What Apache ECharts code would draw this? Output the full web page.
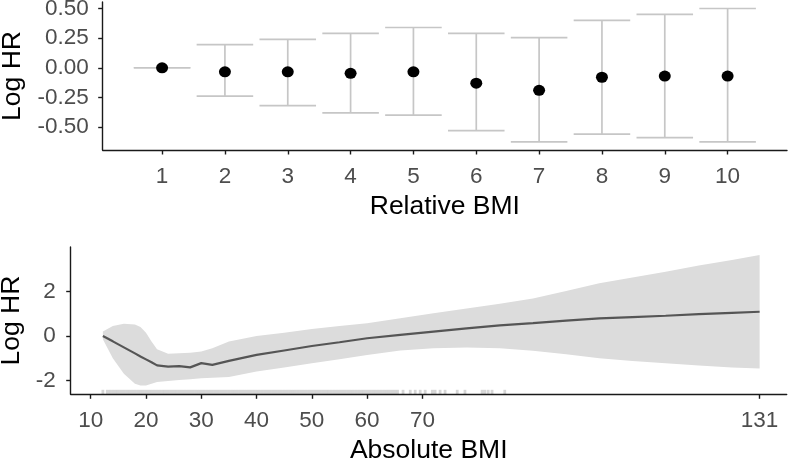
<!DOCTYPE html>
<html>
<head>
<meta charset="utf-8">
<script src="https://cdn.jsdelivr.net/npm/echarts@6/dist/echarts.min.js"></script>
<style>
html,body{margin:0;padding:0;background:#fff;}
#chart{width:790px;height:463px;}
</style>
</head>
<body>
<div id="chart"></div>
<script>
// ---- Top panel: Relative BMI (categories 1..10) ----
const relCategories = [1, 2, 3, 4, 5, 6, 7, 8, 9, 10];
const relLogHR   = [0, -0.034, -0.034, -0.047, -0.034, -0.13, -0.19, -0.08, -0.07, -0.07];
const relLower   = [0, -0.24, -0.32, -0.38, -0.40, -0.53, -0.625, -0.56, -0.59, -0.625];
const relUpper   = [0, 0.196, 0.24, 0.29, 0.34, 0.29, 0.255, 0.40, 0.45, 0.50];
const relYTicks  = [-0.5, -0.25, 0, 0.25, 0.5];

// ---- Bottom panel: Absolute BMI smooth curve ----
const absBMI   = [12.2, 14, 16, 18, 19, 20, 21, 22, 24, 26, 28, 30, 32, 35, 40, 45, 50, 55, 60, 66, 72, 78, 84, 90, 96, 102, 108, 114, 120, 126, 131];
const absLogHR = [0, -0.24, -0.51, -0.78, -0.92, -1.05, -1.18, -1.32, -1.38, -1.35, -1.41, -1.22, -1.30, -1.12, -0.85, -0.65, -0.45, -0.28, -0.10, 0.05, 0.20, 0.34, 0.48, 0.58, 0.69, 0.79, 0.85, 0.91, 0.98, 1.04, 1.09];
const absUpper = [0.2, 0.45, 0.55, 0.52, 0.40, 0.15, -0.25, -0.60, -0.80, -0.78, -0.75, -0.70, -0.55, -0.25, 0.0, 0.15, 0.31, 0.45, 0.57, 0.80, 1.02, 1.24, 1.45, 1.69, 2.02, 2.37, 2.63, 2.89, 3.17, 3.42, 3.64];
const absLower = [-0.15, -1.0, -1.7, -2.15, -2.22, -2.22, -2.15, -2.07, -2.02, -1.98, -1.94, -1.90, -1.88, -1.84, -1.60, -1.42, -1.23, -1.04, -0.85, -0.65, -0.55, -0.52, -0.55, -0.66, -0.82, -1.0, -1.12, -1.23, -1.33, -1.41, -1.46];
const absXTicks = [10, 20, 30, 40, 50, 60, 70, 131];
const absYTicks = [-2, 0, 2];
// observed BMI values (rug)
const rugBMI = [12.2,13,13.5,14,14.5,15,15.5,16,16.5,17,17.5,18,18.5,19,19.5,20,20.5,21,21.5,22,22.5,23,23.5,24,24.5,25,25.5,26,26.5,27,27.5,28,28.5,29,29.5,30,30.5,31,31.5,32,32.5,33,33.5,34,34.5,35,35.5,36,36.5,37,37.5,38,38.5,39,39.5,40,40.5,41,41.5,42,42.5,43,43.5,44,44.5,45,45.5,46,46.5,47,47.5,48,48.5,49,49.5,50,50.5,51,51.5,52,52.5,53,53.5,54,54.5,55,55.5,56,56.5,57,57.5,58,58.5,59,59.5,60,60.5,61,61.5,62,62.5,63,63.5,64,64.5,65,65.5,66.5,67.8,68.7,69.6,70.5,71.8,72.3,73.2,74.1,76.3,77.7,80.8,81.3,81.9,82.6,84.9];

const FONT = '"Liberation Sans", Arial, sans-serif';
const tickColor = '#4d4d4d';
const axisLineStyle = { color: '#1a1a1a', width: 1.4 };
const TICK_FS = 22.5;
const TITLE_FS = 26.5;

const chart = echarts.init(document.getElementById('chart'), null, { renderer: 'canvas' });

const option = {
  animation: false,
  backgroundColor: '#ffffff',
  textStyle: { fontFamily: FONT },
  grid: [
    { left: 102.7, right: 3, top: 2, bottom: 313, containLabel: false, outerBoundsMode: 'none' },
    { left: 70.7, right: 3.3, top: 247, bottom: 68.7, containLabel: false, outerBoundsMode: 'none' }
  ],
  xAxis: [
    {
      gridIndex: 0, type: 'value', min: 0.055, max: 10.945,
      name: 'Relative BMI', nameLocation: 'middle', nameGap: 43,
      nameTextStyle: { color: '#000', fontSize: TITLE_FS, fontFamily: FONT },
      axisLine: { show: true, onZero: false, lineStyle: axisLineStyle },
      axisTick: { show: true, length: 4.5, lineStyle: axisLineStyle, customValues: relCategories },
      axisLabel: { color: tickColor, fontSize: TICK_FS, margin: 15, fontFamily: FONT, customValues: relCategories },
      splitLine: { show: false }
    },
    {
      gridIndex: 1, type: 'value', min: 6.38, max: 135.9,
      name: 'Absolute BMI', nameLocation: 'middle', nameGap: 43,
      nameTextStyle: { color: '#000', fontSize: TITLE_FS, fontFamily: FONT },
      axisLine: { show: true, onZero: false, lineStyle: axisLineStyle },
      axisTick: { show: true, length: 4.5, lineStyle: axisLineStyle, customValues: absXTicks },
      axisLabel: { color: tickColor, fontSize: TICK_FS, margin: 15, fontFamily: FONT, customValues: absXTicks },
      splitLine: { show: false }
    }
  ],
  yAxis: [
    {
      gridIndex: 0, type: 'value', min: -0.694, max: 0.555,
      name: 'Log HR', nameLocation: 'middle', nameGap: 72, nameRotate: 90,
      nameTextStyle: { color: '#000', fontSize: TITLE_FS, fontFamily: FONT },
      axisLine: { show: true, onZero: false, lineStyle: axisLineStyle },
      axisTick: { show: true, length: 4.5, lineStyle: axisLineStyle, customValues: relYTicks },
      axisLabel: { color: tickColor, fontSize: TICK_FS, margin: 14, fontFamily: FONT, customValues: relYTicks,
        formatter: v => v.toFixed(2) },
      splitLine: { show: false }
    },
    {
      gridIndex: 1, type: 'value', min: -2.62, max: 4.0,
      name: 'Log HR', nameLocation: 'middle', nameGap: 42, nameRotate: 90,
      nameTextStyle: { color: '#000', fontSize: TITLE_FS, fontFamily: FONT },
      axisLine: { show: true, onZero: false, lineStyle: axisLineStyle },
      axisTick: { show: true, length: 4.5, lineStyle: axisLineStyle, customValues: absYTicks },
      axisLabel: { color: tickColor, fontSize: TICK_FS, margin: 15, fontFamily: FONT, customValues: absYTicks,
        formatter: v => String(v) },
      splitLine: { show: false }
    }
  ],
  series: [
    // error bars
    {
      type: 'custom', xAxisIndex: 0, yAxisIndex: 0, z: 2,
      data: relCategories.map((c, i) => [c, relLower[i], relUpper[i]]),
      renderItem: function (params, api) {
        const x = api.value(0), lo = api.value(1), hi = api.value(2);
        const pLo = api.coord([x, lo]);
        const pHi = api.coord([x, hi]);
        const l1 = api.coord([x - 0.45, lo]);
        const r1 = api.coord([x + 0.45, lo]);
        const l2 = api.coord([x - 0.45, hi]);
        const r2 = api.coord([x + 0.45, hi]);
        const style = { stroke: '#c6c6c6', lineWidth: 1.7, fill: null };
        return {
          type: 'group',
          children: [
            { type: 'line', shape: { x1: pLo[0], y1: pLo[1], x2: pHi[0], y2: pHi[1] }, style },
            { type: 'line', shape: { x1: l1[0], y1: l1[1], x2: r1[0], y2: r1[1] }, style },
            { type: 'line', shape: { x1: l2[0], y1: l2[1], x2: r2[0], y2: r2[1] }, style }
          ]
        };
      }
    },
    // points
    {
      type: 'scatter', xAxisIndex: 0, yAxisIndex: 0, z: 3,
      symbol: 'circle', symbolSize: [12, 11],
      itemStyle: { color: '#000000', opacity: 1 },
      emphasis: { disabled: true },
      data: relCategories.map((c, i) => [c, relLogHR[i]])
    },
    // confidence band
    {
      type: 'custom', xAxisIndex: 1, yAxisIndex: 1, z: 1,
      data: [[absBMI[0], absLogHR[0]]],
      renderItem: function (params, api) {
        const pts = [];
        for (let i = 0; i < absBMI.length; i++) pts.push(api.coord([absBMI[i], absUpper[i]]));
        for (let i = absBMI.length - 1; i >= 0; i--) pts.push(api.coord([absBMI[i], absLower[i]]));
        return { type: 'polygon', shape: { points: pts }, style: { fill: '#dcdcdc', stroke: null } };
      }
    },
    // rug
    {
      type: 'custom', xAxisIndex: 1, yAxisIndex: 1, z: 1,
      data: rugBMI.map(v => [v]),
      renderItem: function (params, api) {
        const p = api.coord([api.value(0), -2.62]);
        return { type: 'line', shape: { x1: p[0], y1: p[1], x2: p[0], y2: p[1] - 4.5 },
          style: { stroke: 'rgba(0,0,0,0.16)', lineWidth: 2.8 } };
      }
    },
    // curve
    {
      type: 'line', xAxisIndex: 1, yAxisIndex: 1, z: 3,
      showSymbol: false, symbol: 'none',
      lineStyle: { color: '#555555', width: 2.2 },
      data: absBMI.map((b, i) => [b, absLogHR[i]])
    }
  ]
};
chart.setOption(option);
</script>
</body>
</html>
